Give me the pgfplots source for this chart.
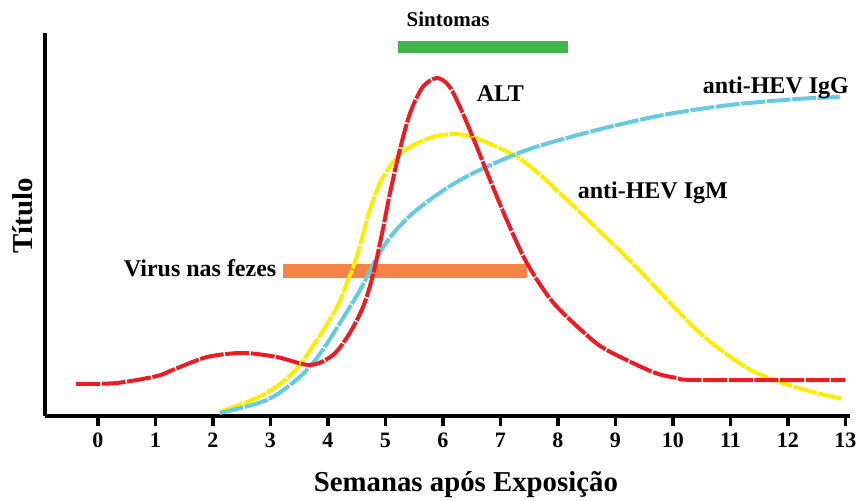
\documentclass[border=0pt]{standalone}
\usepackage{pgfplots}
\pgfplotsset{compat=1.18}
\usepackage{fontspec}
\setmainfont{Liberation Serif}

\definecolor{altred}{RGB}{237,28,36}
\definecolor{igmyellow}{RGB}{255,236,0}
\definecolor{iggcyan}{RGB}{104,202,222}
\definecolor{symgreen}{RGB}{64,181,74}
\definecolor{virorange}{RGB}{245,130,70}

\begin{document}
\begin{tikzpicture}
\useasboundingbox (0,0) rectangle (428pt,250.5pt);
\begin{axis}[
    at={(22.5pt,42.5pt)}, anchor=south west,
    scale only axis,
    width=402.5pt, height=191.5pt,
    xmin=-0.92, xmax=13.08,
    ymin=0, ymax=383,
    axis x line=bottom, axis y line=left,
    axis line style={-, line width=2pt},
    xtick={0,1,2,3,4,5,6,7,8,9,10,11,12,13},
    ytick=\empty,
    tick align=outside,
    major tick length=5pt,
    tick style={line width=1.7pt, black},
    ticklabel style={font=\bfseries\fontsize{11}{13}\selectfont},
    /pgf/number format/assume math mode=true,
    clip=false,
]

% bars
\addplot[virorange, line width=7pt] coordinates {(3.22,145) (7.46,145)};
\addplot[symgreen, line width=6pt] coordinates {(5.22,369) (8.17,369)};

% anti-HEV IgM
\addplot[igmyellow, line width=2pt, smooth, dash pattern=on 12pt off 0.8pt] table {
x y
2.12 4
2.87 21
3.39 43
3.81 76
4.16 109
4.33 133
4.50 159
4.73 206
4.96 239
5.30 264
5.77 278
6.17 282
6.52 279
6.94 269
7.29 259
7.51 250
7.81 235
8.38 204
9.03 168
9.48 142
10.07 106
10.59 77
11.29 48
11.86 34
12.43 24
12.96 17
};

% anti-HEV IgG
\addplot[iggcyan, line width=2pt, smooth, dash pattern=on 12pt off 0.8pt] table {
x y
2.12 3
2.94 16
3.51 39
3.86 62
4.21 93
4.56 126
4.85 158
5.10 180
5.48 203
6.07 228
6.64 246
7.51 267
8.68 286
9.83 301
10.99 311
12.16 317
12.90 319
};

% ALT
\addplot[altred, line width=2pt, smooth, dash pattern=on 12pt off 0.8pt] table {
x y
-0.38 32
0.33 33
1.03 40
1.30 46
1.90 59
2.52 63
3.11 59
3.69 51
4.09 61
4.38 83
4.61 109
4.78 140
4.95 185
5.08 223
5.25 266
5.43 303
5.65 329
5.90 338
6.12 329
6.35 302
6.59 269
6.82 236
7.11 196
7.46 153
7.91 114
8.50 81
8.85 66
9.65 44
10.07 38
10.42 36
13.00 36
};

\node[font=\bfseries\fontsize{10.5}{12}\selectfont] at (axis cs:6.09,397) {Sintomas};
\node[font=\bfseries\fontsize{12}{14}\selectfont] at (axis cs:7.0,322) {ALT};
\node[font=\bfseries\fontsize{12}{14}\selectfont] at (axis cs:11.79,328) {anti-HEV IgG};
\node[font=\bfseries\fontsize{12}{14}\selectfont] at (axis cs:9.65,223) {anti-HEV IgM};
\node[font=\bfseries\fontsize{12}{14}\selectfont, anchor=east, inner sep=0pt] at (axis cs:3.11,148) {Virus nas fezes};
\node[rotate=90, font=\bfseries\fontsize{14.4}{16}\selectfont] at (axis cs:-1.30,200) {Título};
\node[font=\bfseries\fontsize{14.4}{16}\selectfont] at (axis cs:6.40,-69) {Semanas após Exposição};

\end{axis}
\end{tikzpicture}
\end{document}
